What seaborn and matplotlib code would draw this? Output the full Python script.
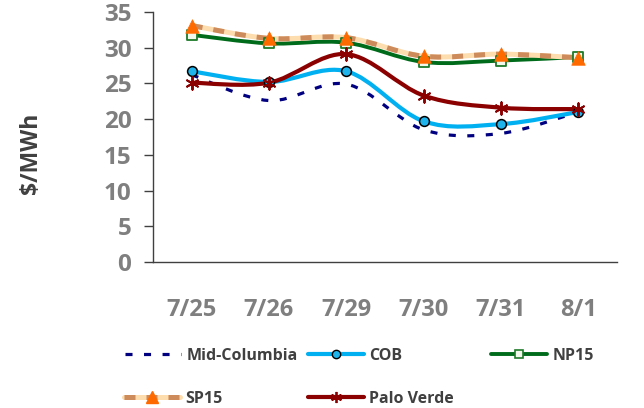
import numpy as np
import pandas as pd
import matplotlib
matplotlib.use("Agg")
import matplotlib.pyplot as plt
import seaborn as sns
from matplotlib.path import Path
from matplotlib.patches import PathPatch
from matplotlib.lines import Line2D

# data ($/MWh)
dates = ["7/25", "7/26", "7/29", "7/30", "7/31", "8/1"]
mid_columbia = [26.2, 22.6, 24.9, 18.5, 18.0, 21.0]
cob = [26.7, 25.2, 26.7, 19.7, 19.3, 21.0]
np15 = [31.8, 30.6, 30.7, 28.0, 28.2, 28.7]
sp15 = [33.1, 31.3, 31.4, 28.8, 29.1, 28.6]
palo_verde = [25.1, 25.1, 29.1, 23.3, 21.6, 21.4]

sns.set_style("white")
plt.rcParams['font.family'] = ['Open Sans', 'DejaVu Sans']
plt.rcParams['font.weight'] = 'bold'

GRAY = '#7f7f7f'
DARK = '#404040'


def smooth_path(xs, ys):
    # excel-style smoothed line: catmull-rom segments as cubic beziers
    pts = np.column_stack([xs, ys]).astype(float)
    ext = np.vstack([pts[0], pts, pts[-1]])
    verts = [pts[0]]
    codes = [Path.MOVETO]
    for i in range(1, len(ext) - 2):
        p0, p1, p2, p3 = ext[i - 1], ext[i], ext[i + 1], ext[i + 2]
        verts += [p1 + (p2 - p0) / 6, p2 - (p3 - p1) / 6, p2]
        codes += [Path.CURVE4] * 3
    return Path(verts, codes)


df = pd.DataFrame({'x': np.arange(len(dates)), 'Mid-Columbia': mid_columbia,
                   'COB': cob, 'NP15': np15, 'SP15': sp15, 'Palo Verde': palo_verde})

fig, ax = plt.subplots(figsize=(6.44, 4.08), dpi=100)
fig.subplots_adjust(left=0.2376, right=0.958, top=0.9706, bottom=0.358)

def curve(col, z, **kw):
    p = PathPatch(smooth_path(df['x'], df[col]), fill=False, capstyle='butt',
                  joinstyle='round', zorder=z, **kw)
    ax.add_patch(p)

curve('Mid-Columbia', 2, edgecolor='#000080', lw=2.3, linestyle=(0, (2.2, 3.6)))
curve('COB', 3, edgecolor='#00b0f0', lw=3.0)
curve('NP15', 4, edgecolor='#006b1a', lw=2.8)
curve('SP15', 5, edgecolor='#fddcae', lw=3.6)
curve('SP15', 5.1, edgecolor='#cd8a5a', lw=3.6, linestyle=(0, (2.2, 2.2)))
curve('Palo Verde', 6, edgecolor='#8b0000', lw=3.0)

sq = dict(marker='s', s=45, color='#f2f8ec', edgecolor='#1e7a2a', linewidth=1.3)
tri = dict(marker='^', s=95, color='#ff6a00', edgecolor='#ff6a00', linewidth=0.5)
circ = dict(marker='o', s=50, color='#1fb4ec', edgecolor='black', linewidth=1.1)
star = dict(marker=(6, 2, 0), s=80, color='#8b0000', edgecolor='#8b0000', linewidth=1.4)

sns.scatterplot(data=df, x='x', y='COB', ax=ax, zorder=7, **circ)
sns.scatterplot(data=df, x='x', y='NP15', ax=ax, zorder=7, **sq)
sns.scatterplot(data=df, x='x', y='SP15', ax=ax, zorder=8, **tri)
sns.scatterplot(data=df, x='x', y='Palo Verde', ax=ax, zorder=8, **star)

ax.set_xlim(-0.5, len(dates) - 0.5)
ax.set_ylim(0, 35)
ax.set_yticks(range(0, 36, 5))
ax.set_xticks(df['x'])
ax.set_xticklabels(dates)
ax.set_xticks(np.arange(-0.5, len(dates), 1), minor=True)
ax.tick_params(axis='x', which='both', direction='in', length=5, width=1,
               color=DARK, pad=26, labelsize=17, labelcolor=GRAY)
ax.tick_params(axis='y', direction='out', length=6.5, width=1, color=DARK,
               pad=9, labelsize=17.5, labelcolor=GRAY, left=True)
for lab in ax.get_xticklabels() + ax.get_yticklabels():
    lab.set_fontweight('bold')

ax.set_xlabel('')
ax.set_ylabel('$/MWh', fontsize=16.5, fontweight='bold', color=DARK)
ax.yaxis.set_label_coords(-0.237, 0.435)
sns.despine(ax=ax)
for s in ['left', 'bottom']:
    ax.spines[s].set_color(DARK)
    ax.spines[s].set_linewidth(1.0)

# legend, one entry at a time so the columns sit where excel put them
handles = {
    'Mid-Columbia': Line2D([], [], color='#000080', lw=2.3, linestyle=(0, (2.2, 3.6))),
    'COB': Line2D([], [], color='#00b0f0', lw=3, marker='o', markersize=6,
                  markerfacecolor='#1fb4ec', markeredgecolor='black', markeredgewidth=1),
    'NP15': Line2D([], [], color='#006b1a', lw=2.8, marker='s', markersize=6,
                   markerfacecolor='#f2f8ec', markeredgecolor='#1e7a2a', markeredgewidth=1.2),
    'SP15': (Line2D([], [], color='#fddcae', lw=3.6),
             Line2D([], [], color='#cd8a5a', lw=3.6, linestyle=(0, (2.2, 2.2)), marker='^',
                    markersize=9, markerfacecolor='#ff6a00', markeredgecolor='#ff6a00')),
    'Palo Verde': Line2D([], [], color='#8b0000', lw=3, marker=(6, 2, 0), markersize=8,
                         markeredgecolor='#8b0000', markeredgewidth=1.3),
}
spots = {'Mid-Columbia': (125, 356), 'COB': (308, 356), 'NP15': (491, 356),
         'SP15': (124, 399), 'Palo Verde': (308, 399)}
W, H = 644, 408
for name, (px, py) in spots.items():
    fig.legend([handles[name]], [name], loc='center left',
               bbox_to_anchor=(px / W, 1 - py / H), frameon=False, borderpad=0,
               borderaxespad=0, handlelength=3.5, handletextpad=0.35,
               prop={'size': 11.5, 'weight': 'bold'}, labelcolor=DARK)

plt.savefig('out.png', dpi=100, facecolor='white')
